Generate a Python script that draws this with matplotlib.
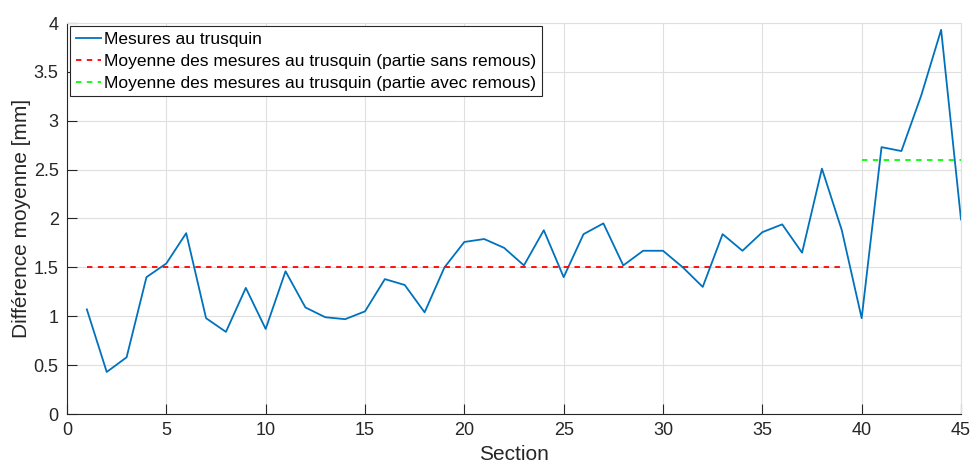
import matplotlib
matplotlib.use('Agg')
from matplotlib import pyplot as plt
import numpy as np

plt.rcParams['font.family'] = ['Liberation Sans', 'DejaVu Sans']

# mesures au trusquin par section
sections = np.arange(1, 46)
diff_moy = [1.07, 0.43, 0.58, 1.40, 1.54, 1.85, 0.98, 0.84, 1.29, 0.87,
            1.46, 1.09, 0.99, 0.97, 1.05, 1.38, 1.32, 1.04, 1.50, 1.76,
            1.79, 1.70, 1.52, 1.88, 1.40, 1.84, 1.95, 1.52, 1.67, 1.67,
            1.50, 1.30, 1.84, 1.67, 1.86, 1.94, 1.65, 2.51, 1.88, 0.98,
            2.73, 2.69, 3.26, 3.93, 1.99]

# moyennes
sans_remous_x = [1, 39]
sans_remous_moy = 1.50
avec_remous_x = [40, 45]
avec_remous_moy = 2.60

fig = plt.figure(figsize=(9.72, 4.69), dpi=100)
ax = fig.add_axes([67/972, 1-414/469, (961-67)/972, (414-23)/469])

ax.plot(sections, diff_moy, color='#0072BD', lw=1.3, label='Mesures au trusquin')
ax.plot(sans_remous_x, [sans_remous_moy]*2, '--', color='#FF0000', lw=1.3,
        dashes=(3, 3), label='Moyenne des mesures au trusquin (partie sans remous)')
ax.plot(avec_remous_x, [avec_remous_moy]*2, '--', color='#00FF00', lw=1.3,
        dashes=(3, 3), label='Moyenne des mesures au trusquin (partie avec remous)')

ax.set_xlim(0, 45)
ax.set_ylim(0, 4)
ax.set_xticks(np.arange(0, 46, 5))
ax.set_yticks(np.arange(0, 4.01, 0.5))
ax.set_yticklabels(['0', '0.5', '1', '1.5', '2', '2.5', '3', '3.5', '4'])
ax.grid(True, color='#dfdfdf', lw=0.8)
ax.set_axisbelow(True)
for side in ['left', 'bottom']:
    ax.spines[side].set_color('#262626')
    ax.spines[side].set_linewidth(0.8)
for side in ['top', 'right']:
    ax.spines[side].set_color('#dfdfdf')
    ax.spines[side].set_linewidth(0.8)
ax.tick_params(direction='in', labelsize=13, colors='#262626', length=7, pad=6)
ax.set_xlabel('Section', fontsize=15, color='#262626', labelpad=4)
ax.set_ylabel('Différence moyenne [mm]', fontsize=15, color='#262626', labelpad=2)

leg = ax.legend(loc='upper left', fontsize=12.5, fancybox=False, framealpha=1,
                edgecolor='#262626', handlelength=1.45, handletextpad=0.2,
                borderpad=0.3, labelspacing=0.4, borderaxespad=0.2)
leg.get_frame().set_linewidth(0.8)

fig.savefig('out.png', dpi=100)
